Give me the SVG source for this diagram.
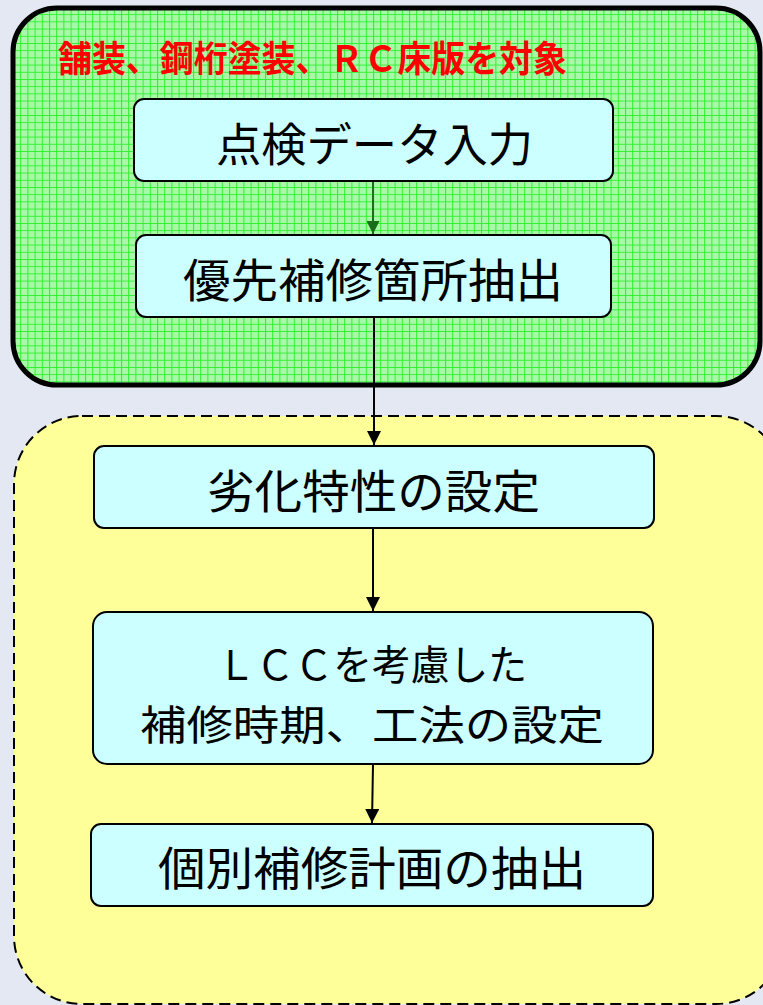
<svg xmlns="http://www.w3.org/2000/svg" width="763" height="1005" viewBox="0 0 763 1005">
<defs>
<pattern id="grid" x="13" y="7" width="7.2" height="7.2" patternUnits="userSpaceOnUse">
<rect width="7.2" height="7.2" fill="#a8f8a8"/>
<path d="M0 0.5H7.2M0.5 0V7.2" stroke="#2ef02e" stroke-width="1"/>
</pattern>
<marker id="arrBlack" viewBox="0 0 14 14" refX="14" refY="7" markerWidth="14" markerHeight="14" markerUnits="userSpaceOnUse" orient="auto">
<path d="M0 0L14 7L0 14Z" fill="#000"/>
</marker>
<marker id="arrGreen" viewBox="0 0 14 14" refX="14" refY="7" markerWidth="14" markerHeight="13" markerUnits="userSpaceOnUse" orient="auto">
<path d="M0 0L14 7L0 14Z" fill="#1a6e1a"/>
</marker>
<style>
.node rect{fill:#ccffff;stroke:#000;stroke-width:2}
.lbl{font-family:"Noto Sans CJK JP","Noto Sans CJK SC",sans-serif;font-size:46px;fill:#000;text-anchor:middle}
.lbl2{font-size:41px}
.title{font-family:"Noto Sans CJK JP","Noto Sans CJK SC",sans-serif;font-size:36px;font-weight:bold;fill:#ff0000}
.edge{stroke:#000;stroke-width:2;fill:none}
.edgeG{stroke:#1a6e1a;stroke-width:2;fill:none}
</style>
</defs>
<rect width="763" height="1005" fill="#e3e8f3"/>
<g id="groupGreen">
<rect x="13" y="8" width="747" height="377" rx="44" fill="url(#grid)" stroke="#000" stroke-width="5"/>
<text class="title" x="58" y="72" textLength="509" lengthAdjust="spacingAndGlyphs">舗装、鋼桁塗装、ＲＣ床版を対象</text>
</g>
<g id="groupYellow">
<rect x="14" y="416" width="770" height="588" rx="68" fill="#ffff99" stroke="#000" stroke-width="2" stroke-dasharray="11 6"/>
</g>
<g id="connectors">
<line class="edgeG" x1="373" y1="181" x2="373" y2="234" marker-end="url(#arrGreen)"/>
<line class="edge" x1="374" y1="317" x2="374" y2="445" marker-end="url(#arrBlack)"/>
<line class="edge" x1="373" y1="528" x2="373" y2="611" marker-end="url(#arrBlack)"/>
<line class="edge" x1="373" y1="764" x2="372" y2="823" marker-end="url(#arrBlack)"/>
</g>
<g id="n1" class="node">
<rect x="134" y="99" width="479" height="82" rx="10"/>
<text class="lbl" x="374.5" y="161" textLength="317" lengthAdjust="spacingAndGlyphs">点検データ入力</text>
</g>
<g id="n2" class="node">
<rect x="136" y="235" width="475" height="82" rx="10"/>
<text class="lbl" x="373" y="297" textLength="380" lengthAdjust="spacingAndGlyphs">優先補修箇所抽出</text>
</g>
<g id="n3" class="node">
<rect x="94" y="446" width="560" height="82" rx="10"/>
<text class="lbl" x="373.5" y="508" textLength="333" lengthAdjust="spacingAndGlyphs">劣化特性の設定</text>
</g>
<g id="n4" class="node">
<rect x="93" y="612" width="560" height="152" rx="14"/>
<text class="lbl lbl2" x="372" y="680" textLength="310" lengthAdjust="spacingAndGlyphs">ＬＣＣを考慮した</text>
<text class="lbl lbl2" x="372" y="740" textLength="464" lengthAdjust="spacingAndGlyphs">補修時期、工法の設定</text>
</g>
<g id="n5" class="node">
<rect x="91" y="824" width="562" height="82" rx="10"/>
<text class="lbl" x="372" y="885" textLength="428" lengthAdjust="spacingAndGlyphs">個別補修計画の抽出</text>
</g>
</svg>
